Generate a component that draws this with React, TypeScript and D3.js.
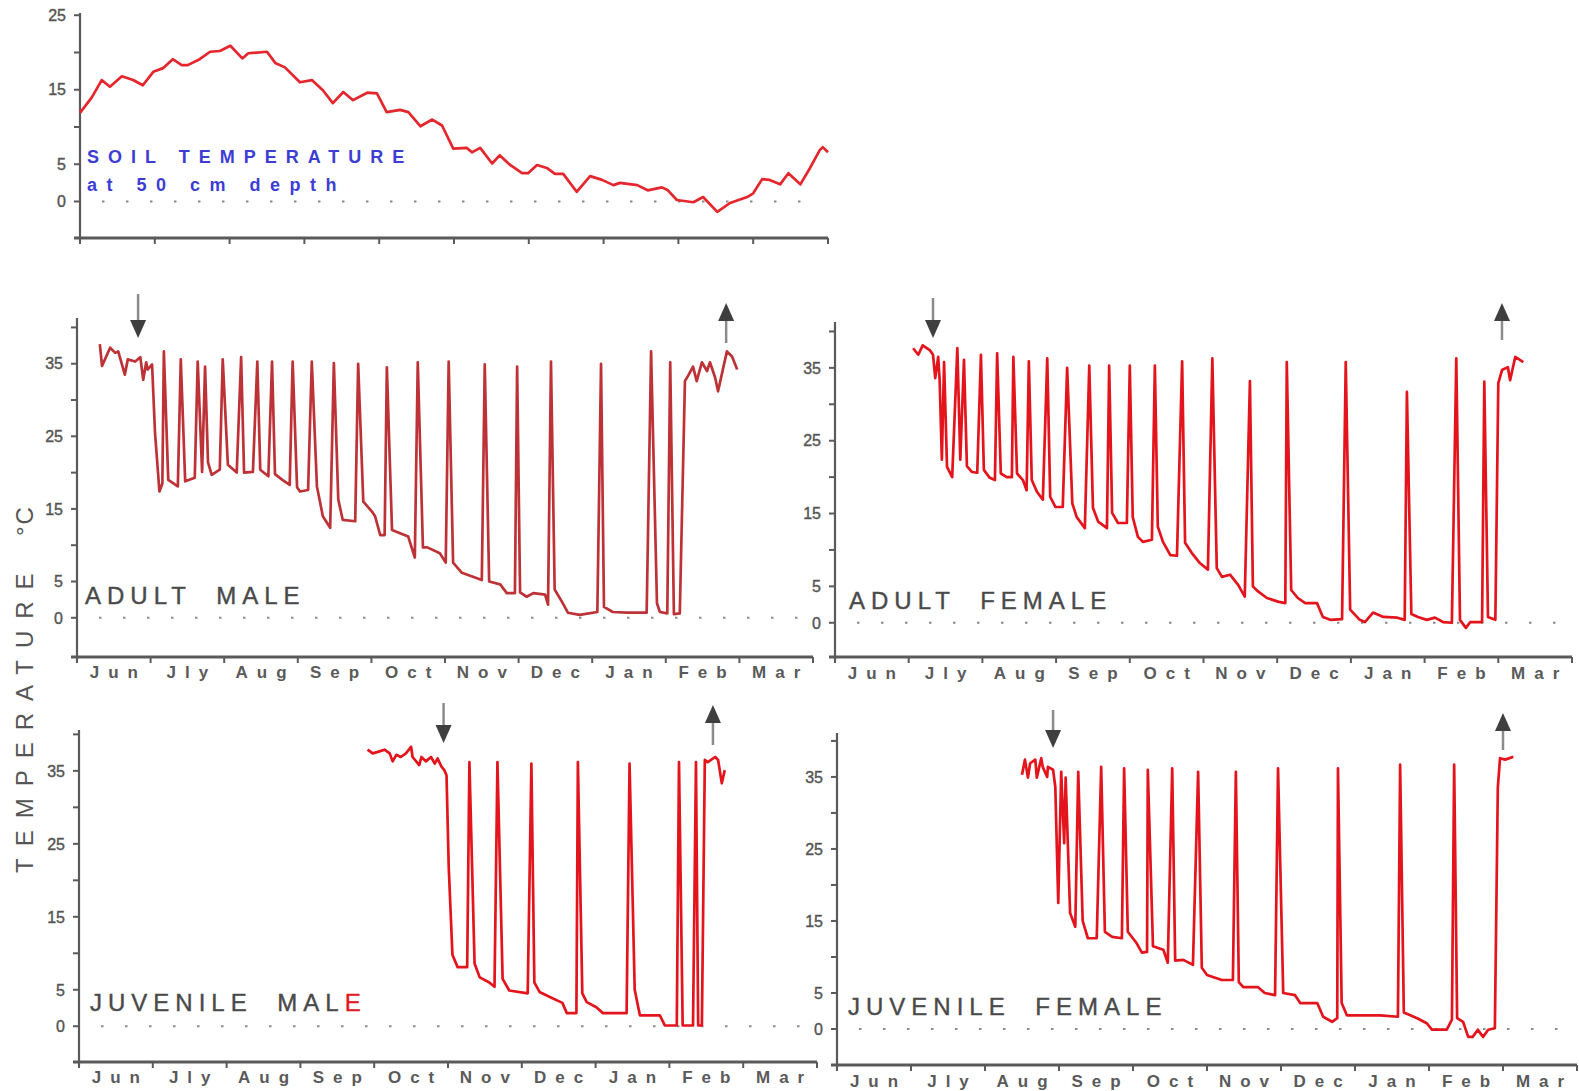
import React from "react";
import * as d3 from "d3";

const FONT = "'Liberation Sans', Arial, Helvetica, sans-serif";

type Pt = [number, number];

// month axis, Jun .. Mar (x values below are in months from 1 June)
const months = ["Jun", "Jly", "Aug", "Sep", "Oct", "Nov", "Dec", "Jan", "Feb", "Mar"];
const bodyTicks = [0, 5, 10, 15, 20, 25, 30, 35, 40];
const soilTicks = [0, 5, 10, 15, 20, 25];
const labelledTicks = [0, 5, 15, 25, 35];

const soilTemp: Pt[] = [
  [0, 11.9], [0.16, 14], [0.29, 16.3], [0.4, 15.4], [0.56, 16.8], [0.71, 16.3], [0.84, 15.6],
  [0.98, 17.4], [1.11, 17.9], [1.24, 19.1], [1.36, 18.3], [1.44, 18.3], [1.6, 19.1], [1.74, 20.1],
  [1.87, 20.2], [2.01, 20.9], [2.17, 19.2], [2.25, 19.9], [2.5, 20.1], [2.61, 18.6], [2.74, 18.0],
  [2.94, 16.0], [3.1, 16.3], [3.25, 14.9], [3.38, 13.2], [3.52, 14.7], [3.65, 13.6], [3.84, 14.6],
  [3.97, 14.5], [4.1, 12.0], [4.28, 12.3], [4.39, 12.0], [4.55, 10.1], [4.71, 11.0], [4.84, 10.2],
  [4.99, 7.1], [5.17, 7.2], [5.24, 6.6], [5.35, 7.2], [5.51, 5.1], [5.61, 6.2], [5.75, 4.9],
  [5.91, 3.8], [5.99, 3.8], [6.11, 4.9], [6.24, 4.5], [6.35, 3.7], [6.46, 3.7], [6.64, 1.3],
  [6.82, 3.4], [6.98, 2.9], [7.13, 2.2], [7.22, 2.5], [7.45, 2.2], [7.59, 1.5], [7.78, 1.9],
  [7.86, 1.5], [7.98, 0.2], [8.2, -0.1], [8.33, 0.6], [8.52, -1.4], [8.69, -0.2], [8.92, 0.6],
  [9.0, 1.1], [9.12, 3.0], [9.22, 2.9], [9.36, 2.3], [9.47, 3.8], [9.63, 2.3], [9.76, 4.5],
  [9.89, 6.9], [9.93, 7.3], [10.0, 6.6],
];

const adultMale: Pt[] = [
  [0.31, 37.7], [0.34, 34.7], [0.45, 37.2], [0.52, 36.5], [0.56, 36.7], [0.65, 33.5], [0.69, 35.6],
  [0.79, 35.3], [0.86, 35.9], [0.9, 32.8], [0.94, 35.2], [0.96, 34.2], [1.02, 34.9], [1.06, 25.5],
  [1.12, 17.4], [1.16, 18.5], [1.18, 36.7], [1.24, 19.0], [1.37, 18.1], [1.41, 35.6], [1.47, 18.8],
  [1.6, 19.3], [1.64, 35.3], [1.7, 20.1], [1.74, 34.6], [1.78, 21.4], [1.83, 19.7], [1.94, 20.4],
  [1.98, 35.6], [2.05, 21.1], [2.17, 20.0], [2.23, 35.9], [2.27, 20.0], [2.39, 20.1], [2.45, 35.3],
  [2.49, 20.4], [2.6, 19.5], [2.65, 35.3], [2.69, 19.8], [2.79, 19.0], [2.89, 18.3], [2.93, 35.3],
  [2.99, 18.0], [3.03, 17.4], [3.14, 17.6], [3.19, 35.3], [3.26, 18.1], [3.34, 14.0], [3.44, 12.4],
  [3.49, 35.1], [3.55, 16.3], [3.61, 13.5], [3.78, 13.3], [3.82, 35.0], [3.89, 16.0], [4.01, 14.6],
  [4.05, 14.0], [4.12, 11.4], [4.18, 11.4], [4.21, 34.5], [4.28, 12.1], [4.5, 11.2], [4.59, 8.3],
  [4.63, 35.2], [4.7, 9.7], [4.76, 9.7], [4.93, 8.9], [5.01, 7.6], [5.05, 35.3], [5.11, 7.6],
  [5.23, 6.2], [5.37, 5.7], [5.5, 5.2], [5.54, 34.9], [5.6, 5.0], [5.75, 4.6], [5.84, 3.4],
  [5.95, 3.4], [5.98, 34.6], [6.02, 3.5], [6.11, 2.9], [6.2, 3.4], [6.36, 3.2], [6.4, 1.8],
  [6.44, 35.3], [6.49, 3.9], [6.59, 2.2], [6.67, 0.7], [6.83, 0.4], [7.07, 0.8], [7.12, 35.0],
  [7.16, 1.5], [7.28, 0.8], [7.47, 0.7], [7.74, 0.7], [7.8, 36.7], [7.88, 2.0], [7.92, 0.8],
  [8.02, 0.6], [8.06, 35.2], [8.11, 0.5], [8.19, 0.6], [8.26, 32.6], [8.3, 33.3], [8.37, 34.6],
  [8.42, 32.6], [8.49, 35.2], [8.56, 34.0], [8.6, 35.2], [8.67, 33.1], [8.71, 31.2], [8.76, 33.5],
  [8.83, 36.7], [8.9, 36.0], [8.97, 34.2],
];

const adultFemale: Pt[] = [
  [1.06, 37.7], [1.13, 36.8], [1.19, 38.1], [1.29, 37.4], [1.33, 36.8], [1.36, 33.6], [1.4, 36.5],
  [1.42, 33.3], [1.45, 22.4], [1.48, 35.8], [1.52, 21.4], [1.59, 20.0], [1.66, 37.7], [1.7, 22.4],
  [1.75, 36.1], [1.79, 21.5], [1.86, 20.7], [1.93, 20.6], [1.98, 36.8], [2.02, 21.0], [2.1, 19.9],
  [2.17, 19.6], [2.2, 37.0], [2.25, 20.5], [2.33, 20.0], [2.4, 20.0], [2.42, 36.5], [2.47, 20.5],
  [2.55, 19.6], [2.6, 18.2], [2.63, 35.9], [2.67, 19.6], [2.74, 18.0], [2.82, 16.9], [2.88, 36.3],
  [2.92, 17.3], [2.99, 15.9], [3.09, 15.9], [3.15, 35.0], [3.22, 16.4], [3.28, 14.5], [3.39, 13.0],
  [3.45, 35.3], [3.5, 15.8], [3.57, 13.9], [3.69, 13.0], [3.72, 35.3], [3.76, 15.1], [3.84, 13.7],
  [3.96, 13.7], [4.0, 35.3], [4.04, 14.5], [4.11, 11.8], [4.18, 11.1], [4.3, 11.4], [4.34, 35.3],
  [4.38, 13.2], [4.45, 11.1], [4.55, 9.3], [4.64, 9.2], [4.71, 35.9], [4.75, 11.0], [4.84, 9.6],
  [4.95, 8.2], [5.06, 7.3], [5.12, 36.3], [5.18, 7.5], [5.25, 6.3], [5.36, 6.6], [5.47, 5.2],
  [5.56, 3.6], [5.63, 33.2], [5.67, 5.0], [5.74, 4.3], [5.86, 3.4], [6.01, 2.9], [6.11, 2.7],
  [6.13, 35.8], [6.19, 4.5], [6.28, 3.4], [6.38, 2.7], [6.54, 2.7], [6.62, 0.8], [6.72, 0.4],
  [6.88, 0.5], [6.93, 35.8], [6.99, 1.8], [7.12, 0.4], [7.19, 0.1], [7.3, 1.4], [7.44, 0.8],
  [7.63, 0.7], [7.73, 0.4], [7.76, 31.7], [7.82, 1.2], [7.91, 0.8], [8.03, 0.4], [8.14, 0.7],
  [8.25, 0.1], [8.37, 0.0], [8.43, 36.3], [8.48, 0.4], [8.56, -0.7], [8.62, 0.1], [8.78, 0.1],
  [8.81, 33.1], [8.86, 0.8], [8.96, 0.4], [9.0, 32.9], [9.05, 34.7], [9.13, 35.1], [9.16, 33.3],
  [9.23, 36.5], [9.34, 35.8],
];

const juvenileMale: Pt[] = [
  [3.91, 37.9], [3.98, 37.4], [4.05, 37.6], [4.14, 37.9], [4.21, 37.4], [4.25, 36.3], [4.3, 37.2],
  [4.36, 36.9], [4.43, 37.4], [4.5, 38.3], [4.52, 36.9], [4.61, 35.8], [4.64, 36.9], [4.7, 36.3],
  [4.77, 36.9], [4.82, 36.0], [4.86, 36.7], [4.91, 35.6], [4.95, 35.1], [4.98, 34.4], [5.01, 21.8],
  [5.06, 9.8], [5.13, 8.1], [5.26, 8.1], [5.29, 36.2], [5.36, 8.6], [5.43, 6.7], [5.56, 6.0],
  [5.63, 5.4], [5.67, 36.2], [5.74, 6.5], [5.83, 4.9], [6.08, 4.5], [6.13, 36.0], [6.17, 6.0],
  [6.24, 4.7], [6.38, 4.0], [6.55, 3.2], [6.61, 1.8], [6.74, 1.8], [6.76, 36.2], [6.82, 4.5],
  [6.88, 3.3], [7.01, 2.6], [7.1, 1.8], [7.42, 1.8], [7.46, 36.0], [7.53, 5.0], [7.6, 1.5],
  [7.87, 1.5], [7.94, 0.1], [8.1, 0.1], [8.13, 36.2], [8.18, 0.1], [8.24, 0.1], [8.32, 0.1],
  [8.36, 36.2], [8.39, 0.1], [8.44, 0.1], [8.48, 36.5], [8.52, 36.2], [8.62, 36.9], [8.66, 36.5],
  [8.71, 33.3], [8.75, 35.1],
];

const juvenileFemale: Pt[] = [
  [2.5, 35.3], [2.54, 37.4], [2.58, 34.9], [2.61, 36.9], [2.68, 37.4], [2.7, 34.9], [2.76, 37.6],
  [2.78, 36.4], [2.84, 35.0], [2.85, 36.4], [2.92, 36.0], [2.95, 33.6], [2.99, 17.5], [3.03, 35.7],
  [3.07, 25.8], [3.09, 34.9], [3.15, 16.1], [3.22, 14.2], [3.26, 35.7], [3.32, 15.0], [3.39, 12.6],
  [3.51, 12.6], [3.57, 36.4], [3.62, 13.5], [3.72, 12.8], [3.85, 12.6], [3.88, 36.2], [3.93, 13.5],
  [4.05, 11.9], [4.12, 10.6], [4.19, 10.7], [4.2, 36.0], [4.27, 11.5], [4.41, 11.0], [4.47, 9.2],
  [4.53, 36.2], [4.57, 9.5], [4.68, 9.6], [4.81, 8.9], [4.88, 35.7], [4.93, 8.5], [5.0, 7.5],
  [5.2, 6.8], [5.35, 6.8], [5.39, 35.7], [5.43, 6.5], [5.49, 5.8], [5.69, 5.8], [5.78, 5.0],
  [5.92, 4.7], [5.96, 36.2], [6.03, 5.0], [6.19, 4.7], [6.26, 3.6], [6.49, 3.6], [6.57, 1.7],
  [6.69, 1.0], [6.76, 1.5], [6.77, 36.2], [6.82, 3.6], [6.89, 1.9], [7.34, 1.9], [7.58, 1.7],
  [7.61, 36.7], [7.66, 2.3], [7.84, 1.5], [7.97, 0.8], [8.04, -0.1], [8.24, -0.1], [8.31, 1.3],
  [8.34, 36.7], [8.38, 1.5], [8.46, 1.0], [8.53, -1.1], [8.59, -1.1], [8.66, -0.1], [8.73, -1.1],
  [8.8, -0.1], [8.89, 0.1], [8.93, 33.5], [8.96, 37.6], [9.03, 37.4], [9.14, 37.8],
];

// entry into / exit from hibernation (month positions)
const adultMaleArrows = [{ m: 0.83, dir: "down", y1: 294, y2: 338 }, { m: 8.82, dir: "up", y1: 303, y2: 343 }];
const adultFemaleArrows = [{ m: 1.33, dir: "down", y1: 298, y2: 338 }, { m: 9.05, dir: "up", y1: 303, y2: 340 }];
const juvMaleArrows = [{ m: 4.94, dir: "down", y1: 703, y2: 743 }, { m: 8.59, dir: "up", y1: 705, y2: 745 }];
const juvFemaleArrows = [{ m: 2.92, dir: "down", y1: 710, y2: 748 }, { m: 9.0, dir: "up", y1: 713, y2: 750 }];

interface Box { x0: number; x1: number; yTop: number; yBottom: number; lo: number; hi: number }

const soilBox: Box = { x0: 80, x1: 828, yTop: 13, yBottom: 238, lo: -4.9, hi: 25.3 };
const amBox: Box = { x0: 77, x1: 813, yTop: 318, yBottom: 657, lo: -5.4, hi: 41.3 };
const afBox: Box = { x0: 835, x1: 1572, yTop: 322, yBottom: 657, lo: -4.7, hi: 41.3 };
const jmBox: Box = { x0: 79, x1: 817, yTop: 730, yBottom: 1062, lo: -4.9, hi: 40.6 };
const jfBox: Box = { x0: 837, x1: 1577, yTop: 733, yBottom: 1065, lo: -5.0, hi: 41.1 };

const AXIS = "#5a5a5a";
const TEXT = "#4a4a4a";

interface PanelProps {
  box: Box;
  data: Pt[];
  color: string;
  ticks: number[];
  showMonths?: boolean;
  monthY?: number;
  arrows?: { m: number; dir: string; y1: number; y2: number }[];
  children?: React.ReactNode;
}

function Panel({ box, data, color, ticks, showMonths = true, monthY = 0, arrows = [], children }: PanelProps) {
  const x = d3.scaleLinear().domain([0, 10]).range([box.x0, box.x1]);
  const y = d3.scaleLinear().domain([box.lo, box.hi]).range([box.yBottom, box.yTop]);
  const line = d3.line<Pt>().x((d) => x(d[0])).y((d) => y(d[1]));
  const monthTicks = d3.range(0, 11);

  return (
    <g>
      {/* zero line, dotted */}
      <line x1={box.x0 + 22} x2={box.x1 - 14} y1={y(0)} y2={y(0)} stroke="#8a8a8a" strokeWidth={2} strokeDasharray="2.5 21.5" />

      {/* y axis */}
      <line x1={box.x0} x2={box.x0} y1={box.yTop} y2={box.yBottom + 4} stroke={AXIS} strokeWidth={2.2} />
      {ticks.map((t) => (
        <g key={`yt-${t}`}>
          <line x1={box.x0 - 6} x2={box.x0} y1={y(t)} y2={y(t)} stroke={AXIS} strokeWidth={2} />
          {labelledTicks.includes(t) && (
            <text x={box.x0 - 14} y={y(t)} dy="0.36em" textAnchor="end" fontSize={16} fill="#555"
              stroke="#555" strokeWidth={0.4} fontFamily={FONT}>
              {t}
            </text>
          )}
        </g>
      ))}

      {/* x axis */}
      <line x1={box.x0 - 6} x2={box.x1} y1={box.yBottom} y2={box.yBottom} stroke={AXIS} strokeWidth={2.8} />
      {monthTicks.map((i) => (
        <line key={`xt-${i}`} x1={x(i)} x2={x(i)} y1={box.yBottom} y2={box.yBottom + 6} stroke={AXIS} strokeWidth={2} />
      ))}
      {showMonths &&
        months.map((mo, i) => (
          <text key={mo} x={x(i + 0.5) + 4.5} y={monthY} textAnchor="middle" fontSize={17} fontWeight="bold"
            letterSpacing={9} fill="#5a5a5a" fontFamily={FONT}>
            {mo}
          </text>
        ))}

      {/* trace */}
      <path d={line(data) ?? ""} fill="none" stroke={color} strokeWidth={2.7} strokeLinejoin="round" />

      {/* arrows */}
      {arrows.map((a, i) => {
        const ax = x(a.m);
        if (a.dir === "down") {
          return (
            <g key={`ar-${i}`}>
              <line x1={ax} x2={ax} y1={a.y1} y2={a.y2 - 12} stroke="#8c8c8c" strokeWidth={2.5} />
              <path d={`M${ax - 8},${a.y2 - 18}L${ax + 8},${a.y2 - 18}L${ax},${a.y2}Z`} fill="#3f3f3f" />
            </g>
          );
        }
        return (
          <g key={`ar-${i}`}>
            <line x1={ax} x2={ax} y1={a.y1 + 12} y2={a.y2} stroke="#8c8c8c" strokeWidth={2.5} />
            <path d={`M${ax - 8},${a.y1 + 18}L${ax + 8},${a.y1 + 18}L${ax},${a.y1}Z`} fill="#3f3f3f" />
          </g>
        );
      })}
      {children}
    </g>
  );
}

const labelStyle = {
  fontFamily: FONT, fontSize: 24, letterSpacing: 6, wordSpacing: 12, fill: TEXT, stroke: TEXT, strokeWidth: 0.4,
};

export default function App() {
  return (
    <svg width={1579} height={1091} style={{ position: "absolute", left: 0, top: 0, background: "#fff" }} fontFamily={FONT}>
      <rect width={1579} height={1091} fill="#fff" />

      <Panel box={soilBox} data={soilTemp} color="#e5262d" ticks={soilTicks} showMonths={false}>
        <text x={87} y={163} fontSize={18} fontWeight="bold" letterSpacing={9} fill="#3d3dd4" fontFamily={FONT}>
          SOIL TEMPERATURE
        </text>
        <text x={87} y={191} fontSize={18} fontWeight="bold" letterSpacing={9.5} fill="#3d3dd4" fontFamily={FONT}>
          at 50 cm depth
        </text>
      </Panel>

      <Panel box={amBox} data={adultMale} color="#bd3237" ticks={bodyTicks} monthY={678} arrows={adultMaleArrows}>
        <text x={85} y={604} {...labelStyle}>ADULT MALE</text>
      </Panel>

      <Panel box={afBox} data={adultFemale} color="#e3141c" ticks={bodyTicks} monthY={679} arrows={adultFemaleArrows}>
        <text x={849} y={609} {...labelStyle}>ADULT FEMALE</text>
      </Panel>

      <Panel box={jmBox} data={juvenileMale} color="#e3141c" ticks={bodyTicks} monthY={1083} arrows={juvMaleArrows}>
        <text x={90} y={1011} {...labelStyle}>
          JUVENILE MAL<tspan fill="#e01a22" stroke="#e01a22">E</tspan>
        </text>
      </Panel>

      <Panel box={jfBox} data={juvenileFemale} color="#e3141c" ticks={bodyTicks} monthY={1087} arrows={juvFemaleArrows}>
        <text x={848} y={1015} {...labelStyle}>JUVENILE FEMALE</text>
      </Panel>

      {/* shared y title */}
      <text transform="translate(33,873) rotate(-90)" fontSize={24} letterSpacing={12} fill="#555" fontFamily={FONT}>
        TEMPERATURE
      </text>
      <text transform="translate(33,536) rotate(-90)" fontSize={24} letterSpacing={2} fill="#555" fontFamily={FONT}>
        °C
      </text>
    </svg>
  );
}
